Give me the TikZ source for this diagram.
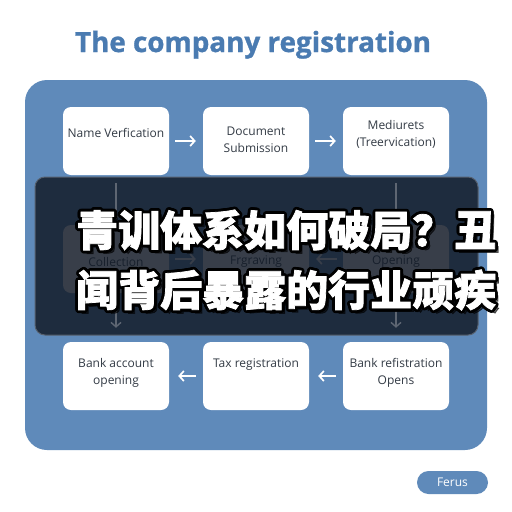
\documentclass[tikz,border=0pt]{standalone}
\usepackage{fontspec}
\setmainfont{Open Sans}
\newfontfamily\cjk{Noto Sans CJK SC}[FakeBold=1.8]
\newfontfamily\titlefont{Open Sans}[FakeBold=1.0]
\usetikzlibrary{arrows.meta,calc}
\definecolor{panelblue}{HTML}{5F8ABA}
\definecolor{titleblue}{HTML}{4A7BB1}
\definecolor{boxtext}{HTML}{333B45}
\definecolor{overlaydark}{HTML}{121A27}
\definecolor{overlayline}{HTML}{56606E}
\definecolor{dimarrow}{HTML}{5E6672}
\def\cjkA{青训体系如何破局？丑}
\def\cjkB{闻背后暴露的行业顽疾}
\tikzset{
  wbox/.style={draw=none,fill=white,rounded corners=8pt,minimum width=106pt,minimum height=68pt,inner sep=0pt},
  boxtxt/.style={text=boxtext,align=center,font=\fontsize{12}{16.5}\selectfont,inner sep=0pt},
  arr/.style={draw=white,line width=1.7pt,-{Straight Barb[length=4.5pt,width=10pt]}},
  varr/.style={draw=dimarrow,line width=1.4pt,-{Straight Barb[length=4.5pt,width=10pt]}},
  cjktxt/.style={font=\cjk\bfseries\fontsize{42}{42}\selectfont,inner sep=0pt,anchor=west},
}
\begin{document}
\begin{tikzpicture}[x=1pt,y=-1pt]
\useasboundingbox[fill=white] (0,0) rectangle (512,512);
% title
\node[anchor=base,text=titleblue,font=\titlefont\bfseries\fontsize{27.8}{30}\selectfont,inner sep=0pt] (title) at (253,52) {The company registration};
% panel
\fill[panelblue,rounded corners=22pt] (25,80) rectangle (487,450);
% top row
\node[wbox] (a1) at (116,141) {};
\node[wbox] (a2) at (256,141) {};
\node[wbox] (a3) at (396,141) {};
\node[boxtxt] (ta1) at (116,133) {Name Verfication};
\node[boxtxt] (ta2) at (256,140) {Document\\Submission};
\node[boxtxt] (ta3) at (396,134.5) {Mediurets\\(Treervication)};
\draw[arr] ([xshift=6pt]a1.east) -- ([xshift=-7pt]a2.west);
\draw[arr] ([xshift=6pt]a2.east) -- ([xshift=-7pt]a3.west);
% middle row (under overlay)
\node[wbox] (m1) at (116,259) {};
\node[wbox] (m2) at (256,259) {};
\node[wbox] (m3) at (396,259) {};
\node[boxtxt] (tm1) at (116,262) {Collection};
\node[boxtxt] (tm2) at (256,262) {Frgraving};
\node[boxtxt] (tm3) at (396,253.5) {Account\\Opening};
\draw[arr] ([xshift=6pt]m1.east) -- ([xshift=-7pt]m2.west);
\draw[arr] ([xshift=-6pt]m3.west) -- ([xshift=7pt]m2.east);
% bottom row
\node[wbox] (c1) at (116,376) {};
\node[wbox] (c2) at (256,376) {};
\node[wbox] (c3) at (396,376) {};
\node[boxtxt] (tc1) at (116,373) {Bank account\\opening};
\node[boxtxt] (tc2) at (256,365) {Tax registration};
\node[boxtxt] (tc3) at (396,373) {Bank refistration\\Opens};
\draw[arr] ([xshift=-7pt]c2.west) -- ([xshift=9pt]c1.east);
\draw[arr] ([xshift=-7pt]c3.west) -- ([xshift=9pt]c2.east);
% overlay
\fill[overlaydark,opacity=0.84,rounded corners=10pt] (35,177) rectangle (478,335);
\draw[overlayline,line width=1pt,rounded corners=10pt] (35,177) rectangle (478,335);
% vertical connectors seen through the overlay
\draw[varr] ([yshift=-8pt]a1.south) -- ([yshift=6pt]m1.north);
\draw[varr] ([yshift=-8pt]a3.south) -- ([yshift=6pt]m3.north);
\draw[varr] ([yshift=-1pt]m1.south) -- ([yshift=14pt]c1.north);
\draw[varr] ([yshift=-1pt]m3.south) -- ([yshift=14pt]c3.north);
% chinese text with outline
\coordinate (ca) at (76,230);
\coordinate (cb) at (76,290);
\node[cjktxt,text=black,opacity=0.6] (sa) at ($(ca)+(3.5pt,-3.5pt)$) {\cjkA};
\node[cjktxt,text=black,opacity=0.6] (sb) at ($(cb)+(3.5pt,-3.5pt)$) {\cjkB};
\foreach \i in {0,...,15}{
  \node[cjktxt,text=black] (oa\i) at ($(ca)+(\i*22.5:2.8pt)$) {\cjkA};
  \node[cjktxt,text=black] (ob\i) at ($(cb)+(\i*22.5:2.8pt)$) {\cjkB};
}
\node[cjktxt,text=white] (la) at (ca) {\cjkA};
\node[cjktxt,text=white] (lb) at (cb) {\cjkB};
% button
\node[fill=panelblue,rounded corners=11.5pt,minimum width=71pt,minimum height=23pt,inner sep=0pt,text=white,font=\fontsize{12}{14}\selectfont] (ferus) at (452.5,482.5) {Ferus};
\end{tikzpicture}
\end{document}
